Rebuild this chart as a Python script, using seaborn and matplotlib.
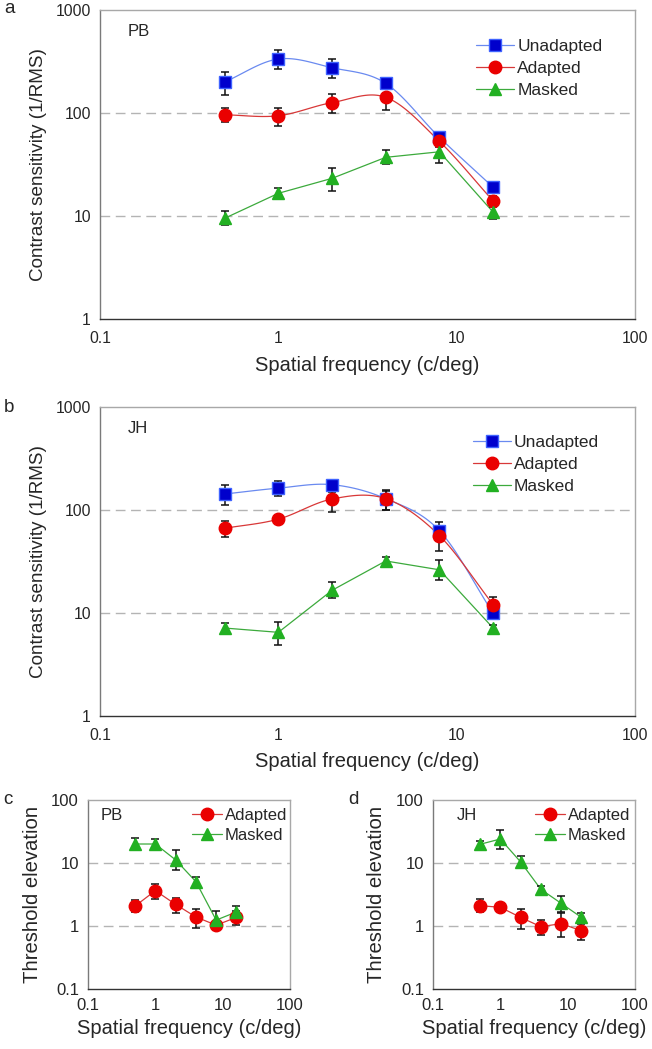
import numpy as np
import matplotlib
matplotlib.use("Agg")
import matplotlib.pyplot as plt
import seaborn as sns

# ── Data ─────────────────────────────────────────────────────────────────────
freqs = [0.5, 1, 2, 4, 8, 16]

# panel a (PB) contrast sensitivity
pb_unadapted = [200, 334, 275, 194, 58, 19]
pb_unadapted_lo = [150, 266, 220, 180, 52, 17]
pb_unadapted_hi = [250, 409, 331, 210, 64, 21]
pb_adapted = [96, 94, 126, 142, 53, 14]
pb_adapted_lo = [81, 74, 100, 106, 48, 12.5]
pb_adapted_hi = [112, 112, 153, 158, 58, 15.5]
pb_masked = [9.5, 16.6, 23.2, 37.1, 42, 10.9]
pb_masked_lo = [8.1, 14.8, 17.4, 32, 33, 9.3]
pb_masked_hi = [11.3, 18.8, 29.4, 43.7, 47, 12.2]

# panel b (JH) contrast sensitivity
jh_unadapted = [142, 162, 175, 128, 62.5, 9.9]
jh_unadapted_lo = [110, 136, 162, 100, 50, 9.0]
jh_unadapted_hi = [174, 188, 188, 153, 76, 10.8]
jh_adapted = [66, 81, 127, 128, 56, 12]
jh_adapted_lo = [54, 76, 94, 100, 40, 10]
jh_adapted_hi = [77, 86, 150, 155, 70, 14.3]
jh_masked = [7.1, 6.45, 16.5, 31.8, 26.1, 7.1]
jh_masked_lo = [6.3, 4.9, 13.9, 29, 20.9, 6.6]
jh_masked_hi = [7.9, 8.1, 19.7, 35, 32.3, 7.6]

# panel c (PB) threshold elevation
pb_te_adapted = [2.07, 3.64, 2.2, 1.39, 1.03, 1.37]
pb_te_adapted_lo = [1.69, 2.65, 1.59, 0.92, 0.86, 1.03]
pb_te_adapted_hi = [2.55, 4.64, 2.8, 1.84, 1.22, 1.75]
pb_te_masked = [20, 20, 11.2, 5.05, 1.24, 1.67]
pb_te_masked_lo = [16.5, 18, 7.65, 4.2, 1.0, 1.34]
pb_te_masked_hi = [25, 23.8, 16.3, 6.1, 1.7, 2.1]

# panel d (JH) threshold elevation
jh_te_adapted = [2.1, 1.98, 1.37, 0.975, 1.09, 0.84]
jh_te_adapted_lo = [1.67, 1.88, 0.885, 0.71, 0.66, 0.59]
jh_te_adapted_hi = [2.65, 2.08, 1.86, 1.26, 1.58, 1.09]
jh_te_masked = [19.8, 24, 10.4, 3.82, 2.29, 1.37]
jh_te_masked_lo = [17.1, 16.5, 8.4, 3.4, 1.69, 1.22]
jh_te_masked_hi = [22.6, 33, 12.8, 4.3, 2.96, 1.63]

# ── Style ────────────────────────────────────────────────────────────────────
sns.set_style("white")
plt.rcParams["font.family"] = ["Liberation Sans", "DejaVu Sans"]

STYLE = {
    "Unadapted": dict(marker="s", mfc="#0000CC", mec="#3F63FF", line="#6A8AF0", ms=8.0),
    "Adapted": dict(marker="o", mfc="#EA0000", mec="#EA0000", line="#D83838", ms=9.0),
    "Masked": dict(marker="^", mfc="#22B022", mec="#22B022", line="#3CAA3C", ms=9.0),
}


def smooth_curve(x, y, n=24):
    """Catmull-Rom smoothing in log-log space (like a spreadsheet's smoothed line)."""
    lx, ly = np.log10(x), np.log10(y)
    px = np.concatenate([[2 * lx[0] - lx[1]], lx, [2 * lx[-1] - lx[-2]]])
    py = np.concatenate([[2 * ly[0] - ly[1]], ly, [2 * ly[-1] - ly[-2]]])
    xs, ys = [], []
    for i in range(1, len(px) - 2):
        t = np.linspace(0, 1, n, endpoint=(i == len(px) - 3))
        for p, out in ((px, xs), (py, ys)):
            p0, p1, p2, p3 = p[i - 1], p[i], p[i + 1], p[i + 2]
            out.extend(0.5 * ((2 * p1) + (-p0 + p2) * t
                              + (2 * p0 - 5 * p1 + 4 * p2 - p3) * t ** 2
                              + (-p0 + 3 * p1 - 3 * p2 + p3) * t ** 3))
    return 10 ** np.array(xs), 10 ** np.array(ys)


def draw_series(ax, name, y, lo, hi, smooth, capsize):
    st = STYLE[name]
    y = np.array(y)
    if smooth:
        cx, cy = smooth_curve(freqs, y)
    else:
        cx, cy = np.array(freqs), y
    sns.lineplot(x=cx, y=cy, ax=ax, color=st["line"], lw=0.9, sort=False,
                 estimator=None, zorder=2)
    ax.errorbar(freqs, y, yerr=[y - np.array(lo), np.array(hi) - y], fmt="none",
                ecolor="#111111", elinewidth=1.1, capsize=capsize, capthick=1.1, zorder=3)
    ax.plot(freqs, y, ls="none", marker=st["marker"], ms=st["ms"],
            mfc=st["mfc"], mec=st["mec"], mew=1.0, zorder=4)
    # legend proxy
    ax.plot([], [], color=st["line"], lw=0.9, marker=st["marker"], ms=st["ms"],
            mfc=st["mfc"], mec=st["mec"], mew=1.0, label=name)


def style_axes(ax, ylim, yticks, grid_vals, fs, pad):
    ax.set_xscale("log")
    ax.set_yscale("log")
    ax.set_xlim(0.1, 100)
    ax.set_ylim(*ylim)
    ax.set_xticks([0.1, 1, 10, 100])
    ax.set_xticklabels(["0.1", "1", "10", "100"])
    ax.set_yticks(yticks)
    ax.set_yticklabels([f"{v:g}" for v in yticks])
    ax.minorticks_off()
    ax.tick_params(axis="both", which="major", direction="out", length=3.5,
                   width=0.8, labelsize=fs, color="#444444")
    ax.tick_params(axis="x", pad=pad)
    ax.tick_params(axis="y", pad=3)
    for g in grid_vals:
        ax.axhline(g, color="#B4B4B4", lw=1.0, ls=(0, (7, 4)), zorder=1)
    ax.spines["left"].set_color("#7A7A7A")
    ax.spines["bottom"].set_color("#333333")
    ax.spines["top"].set_color("#A8A8A8")
    ax.spines["right"].set_color("#A8A8A8")
    for s in ax.spines.values():
        s.set_linewidth(1.0)


# ── Figure ───────────────────────────────────────────────────────────────────
fig = plt.figure(figsize=(6.52, 10.49), dpi=100)

big_panels = [
    ("a", "PB", [0.1534, 0.6959, 0.8206, 0.2946], 0.9915,
     [(pb_unadapted, pb_unadapted_lo, pb_unadapted_hi, "Unadapted"),
      (pb_adapted, pb_adapted_lo, pb_adapted_hi, "Adapted"),
      (pb_masked, pb_masked_lo, pb_masked_hi, "Masked")], (0.703, 0.906), 0.929),
    ("b", "JH", [0.1534, 0.3177, 0.8206, 0.2946], 0.612,
     [(jh_unadapted, jh_unadapted_lo, jh_unadapted_hi, "Unadapted"),
      (jh_adapted, jh_adapted_lo, jh_adapted_hi, "Adapted"),
      (jh_masked, jh_masked_lo, jh_masked_hi, "Masked")], (0.697, 0.908), 0.931),
]

for letter, subj, rect, letter_y, series, leg_xy, subj_y in big_panels:
    ax = fig.add_axes(rect)
    for y, lo, hi, name in series:
        draw_series(ax, name, y, lo, hi, smooth=(name != "Masked"), capsize=3)
    style_axes(ax, (1, 1000), [1, 10, 100, 1000], [10, 100], 11.3, 5)
    ax.set_xlabel("Spatial frequency (c/deg)", fontsize=14.5, labelpad=7)
    ax.set_ylabel("Contrast sensitivity (1/RMS)", fontsize=13.6, labelpad=6)
    ax.text(0.052, subj_y, subj, transform=ax.transAxes, fontsize=12, va="center")
    fig.text(0.006, letter_y, letter, fontsize=13.5, va="center")
    ax.legend(loc="upper left", bbox_to_anchor=leg_xy, frameon=False,
              fontsize=12.5, handlelength=2.2, handletextpad=0.17,
              labelspacing=0.4, borderaxespad=0, borderpad=0)

small_panels = [
    ("c", "PB", [0.135, 0.0572, 0.3098, 0.1802], 0.005, 0.06, (0.515, 0.958),
     [(pb_te_adapted, pb_te_adapted_lo, pb_te_adapted_hi, "Adapted"),
      (pb_te_masked, pb_te_masked_lo, pb_te_masked_hi, "Masked")]),
    ("d", "JH", [0.6641, 0.0572, 0.3098, 0.1802], 0.534, 0.119, (0.505, 0.958),
     [(jh_te_adapted, jh_te_adapted_lo, jh_te_adapted_hi, "Adapted"),
      (jh_te_masked, jh_te_masked_lo, jh_te_masked_hi, "Masked")]),
]

for letter, subj, rect, letter_x, subj_x, leg_xy, series in small_panels:
    ax = fig.add_axes(rect)
    for y, lo, hi, name in series:
        draw_series(ax, name, y, lo, hi, smooth=False, capsize=2.6)
    style_axes(ax, (0.1, 100), [0.1, 1, 10, 100], [1, 10], 12, 3)
    ax.set_xlabel("Spatial frequency (c/deg)", fontsize=14.5, labelpad=4)
    ax.set_ylabel("Threshold elevation", fontsize=14.6, labelpad=7)
    ax.text(subj_x, 0.92, subj, transform=ax.transAxes, fontsize=12, va="center")
    fig.text(letter_x, 1 - 800 / 1049, letter, fontsize=13.5, va="center")
    ax.legend(loc="upper left", bbox_to_anchor=leg_xy, frameon=False,
              fontsize=12, handlelength=1.8, handletextpad=0.18,
              labelspacing=0.3, borderaxespad=0, borderpad=0)

fig.savefig("out.png", dpi=100)
